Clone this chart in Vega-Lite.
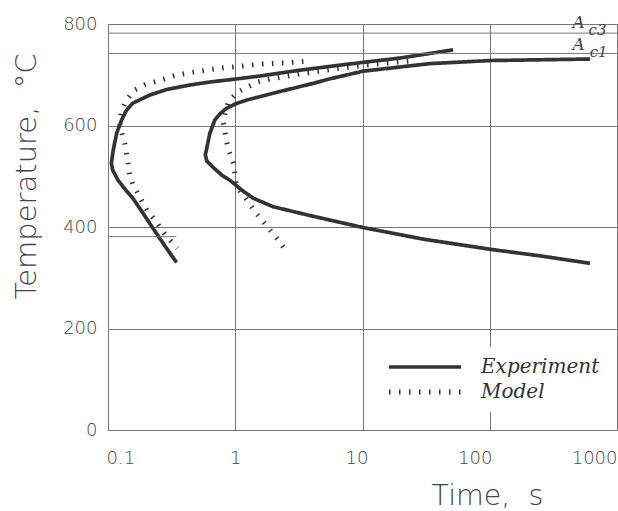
{
  "$schema": "https://vega.github.io/schema/vega-lite/v6.json",
  "width": 509,
  "height": 406,
  "autosize": "none",
  "padding": {"left": 108, "top": 24, "right": 1, "bottom": 81},
  "background": "white",
  "config": {"view": {"stroke": "#777", "strokeWidth": 1}},
  "datasets": {
    "curves": [
      {"curve": "E1", "type": "Experiment", "t": 51.5, "T": 749},
      {"curve": "E1", "type": "Experiment", "t": 19.8, "T": 733},
      {"curve": "E1", "type": "Experiment", "t": 6.67, "T": 719},
      {"curve": "E1", "type": "Experiment", "t": 3.23, "T": 709},
      {"curve": "E1", "type": "Experiment", "t": 1.565, "T": 697.5},
      {"curve": "E1", "type": "Experiment", "t": 1.01, "T": 691.6},
      {"curve": "E1", "type": "Experiment", "t": 0.632, "T": 685.7},
      {"curve": "E1", "type": "Experiment", "t": 0.44, "T": 679.8},
      {"curve": "E1", "type": "Experiment", "t": 0.29, "T": 671},
      {"curve": "E1", "type": "Experiment", "t": 0.213, "T": 660},
      {"curve": "E1", "type": "Experiment", "t": 0.1565, "T": 644},
      {"curve": "E1", "type": "Experiment", "t": 0.14, "T": 630.5},
      {"curve": "E1", "type": "Experiment", "t": 0.128, "T": 611},
      {"curve": "E1", "type": "Experiment", "t": 0.117, "T": 585},
      {"curve": "E1", "type": "Experiment", "t": 0.11, "T": 552},
      {"curve": "E1", "type": "Experiment", "t": 0.1063, "T": 526},
      {"curve": "E1", "type": "Experiment", "t": 0.1089, "T": 512},
      {"curve": "E1", "type": "Experiment", "t": 0.1193, "T": 493},
      {"curve": "E1", "type": "Experiment", "t": 0.1377, "T": 473},
      {"curve": "E1", "type": "Experiment", "t": 0.1565, "T": 457},
      {"curve": "E1", "type": "Experiment", "t": 0.1875, "T": 428},
      {"curve": "E1", "type": "Experiment", "t": 0.225, "T": 398},
      {"curve": "E1", "type": "Experiment", "t": 0.2796, "T": 363},
      {"curve": "E1", "type": "Experiment", "t": 0.3457, "T": 330},
      {"curve": "E2", "type": "Experiment", "t": 612.7, "T": 731},
      {"curve": "E2", "type": "Experiment", "t": 250.6, "T": 729.5},
      {"curve": "E2", "type": "Experiment", "t": 101.4, "T": 728},
      {"curve": "E2", "type": "Experiment", "t": 34.1, "T": 722},
      {"curve": "E2", "type": "Experiment", "t": 10.07, "T": 707},
      {"curve": "E2", "type": "Experiment", "t": 5.57, "T": 692},
      {"curve": "E2", "type": "Experiment", "t": 4.09, "T": 683},
      {"curve": "E2", "type": "Experiment", "t": 2.25, "T": 667},
      {"curve": "E2", "type": "Experiment", "t": 1.565, "T": 657},
      {"curve": "E2", "type": "Experiment", "t": 1.23, "T": 650},
      {"curve": "E2", "type": "Experiment", "t": 1.013, "T": 643},
      {"curve": "E2", "type": "Experiment", "t": 0.855, "T": 634},
      {"curve": "E2", "type": "Experiment", "t": 0.758, "T": 623},
      {"curve": "E2", "type": "Experiment", "t": 0.692, "T": 611},
      {"curve": "E2", "type": "Experiment", "t": 0.632, "T": 585},
      {"curve": "E2", "type": "Experiment", "t": 0.598, "T": 556},
      {"curve": "E2", "type": "Experiment", "t": 0.582, "T": 542},
      {"curve": "E2", "type": "Experiment", "t": 0.598, "T": 530},
      {"curve": "E2", "type": "Experiment", "t": 0.667, "T": 518},
      {"curve": "E2", "type": "Experiment", "t": 0.785, "T": 502},
      {"curve": "E2", "type": "Experiment", "t": 0.908, "T": 492},
      {"curve": "E2", "type": "Experiment", "t": 1.15, "T": 471},
      {"curve": "E2", "type": "Experiment", "t": 1.38, "T": 457},
      {"curve": "E2", "type": "Experiment", "t": 1.98, "T": 440},
      {"curve": "E2", "type": "Experiment", "t": 3.65, "T": 424},
      {"curve": "E2", "type": "Experiment", "t": 10.07, "T": 399},
      {"curve": "E2", "type": "Experiment", "t": 30.2, "T": 376},
      {"curve": "E2", "type": "Experiment", "t": 101.4, "T": 356},
      {"curve": "E2", "type": "Experiment", "t": 250.6, "T": 343},
      {"curve": "E2", "type": "Experiment", "t": 612.7, "T": 328.5},
      {"curve": "M1", "type": "Model", "t": 3.43, "T": 726},
      {"curve": "M1", "type": "Model", "t": 2.25, "T": 723},
      {"curve": "M1", "type": "Model", "t": 1.565, "T": 721},
      {"curve": "M1", "type": "Model", "t": 1.123, "T": 717},
      {"curve": "M1", "type": "Model", "t": 0.758, "T": 713},
      {"curve": "M1", "type": "Model", "t": 0.497, "T": 706},
      {"curve": "M1", "type": "Model", "t": 0.3457, "T": 699.5},
      {"curve": "M1", "type": "Model", "t": 0.288, "T": 693},
      {"curve": "M1", "type": "Model", "t": 0.233, "T": 686},
      {"curve": "M1", "type": "Model", "t": 0.1945, "T": 680},
      {"curve": "M1", "type": "Model", "t": 0.162, "T": 670},
      {"curve": "M1", "type": "Model", "t": 0.1397, "T": 650},
      {"curve": "M1", "type": "Model", "t": 0.1275, "T": 627},
      {"curve": "M1", "type": "Model", "t": 0.1236, "T": 604},
      {"curve": "M1", "type": "Model", "t": 0.1275, "T": 588},
      {"curve": "M1", "type": "Model", "t": 0.1353, "T": 565},
      {"curve": "M1", "type": "Model", "t": 0.1397, "T": 545},
      {"curve": "M1", "type": "Model", "t": 0.1437, "T": 525.5},
      {"curve": "M1", "type": "Model", "t": 0.148, "T": 502.5},
      {"curve": "M1", "type": "Model", "t": 0.157, "T": 483},
      {"curve": "M1", "type": "Model", "t": 0.172, "T": 466},
      {"curve": "M1", "type": "Model", "t": 0.1887, "T": 447},
      {"curve": "M1", "type": "Model", "t": 0.2065, "T": 430},
      {"curve": "M1", "type": "Model", "t": 0.24, "T": 410.5},
      {"curve": "M1", "type": "Model", "t": 0.263, "T": 394},
      {"curve": "M1", "type": "Model", "t": 0.297, "T": 378},
      {"curve": "M1", "type": "Model", "t": 0.3494, "T": 358},
      {"curve": "M2", "type": "Model", "t": 22.9, "T": 727},
      {"curve": "M2", "type": "Model", "t": 11.5, "T": 720},
      {"curve": "M2", "type": "Model", "t": 6.67, "T": 713},
      {"curve": "M2", "type": "Model", "t": 3.23, "T": 701.5},
      {"curve": "M2", "type": "Model", "t": 1.876, "T": 691.6},
      {"curve": "M2", "type": "Model", "t": 1.517, "T": 686},
      {"curve": "M2", "type": "Model", "t": 1.265, "T": 676.5},
      {"curve": "M2", "type": "Model", "t": 1.056, "T": 666.6},
      {"curve": "M2", "type": "Model", "t": 0.881, "T": 647},
      {"curve": "M2", "type": "Model", "t": 0.804, "T": 607.5},
      {"curve": "M2", "type": "Model", "t": 0.83, "T": 588},
      {"curve": "M2", "type": "Model", "t": 0.855, "T": 568},
      {"curve": "M2", "type": "Model", "t": 0.898, "T": 548},
      {"curve": "M2", "type": "Model", "t": 0.964, "T": 525.5},
      {"curve": "M2", "type": "Model", "t": 0.994, "T": 506},
      {"curve": "M2", "type": "Model", "t": 1.026, "T": 479},
      {"curve": "M2", "type": "Model", "t": 1.156, "T": 463},
      {"curve": "M2", "type": "Model", "t": 1.265, "T": 450},
      {"curve": "M2", "type": "Model", "t": 1.429, "T": 430},
      {"curve": "M2", "type": "Model", "t": 1.662, "T": 410.5},
      {"curve": "M2", "type": "Model", "t": 1.876, "T": 394},
      {"curve": "M2", "type": "Model", "t": 2.118, "T": 378},
      {"curve": "M2", "type": "Model", "t": 2.46, "T": 356}
    ],
    "acLines": [{"name": "Ac3", "T": 782}, {"name": "Ac1", "T": 742}],
    "msLine": [{"t": 0.1, "t2": 0.345, "T": 381}],
    "labA": [{"s": "A", "t": 446, "T": 791.5}, {"s": "A", "t": 446, "T": 748.8}],
    "labSub": [{"s": "c3", "t": 598, "T": 778.3}, {"s": "c1", "t": 610, "T": 735.6}]
  },
  "layer": [
    {
      "data": {"name": "curves"},
      "mark": {"type": "line", "color": "#333", "strokeCap": "butt"},
      "encoding": {
        "x": {
          "field": "t", "type": "quantitative",
          "scale": {"type": "log", "domain": [0.1, 1000]},
          "axis": {
            "title": "Time,\u00a0\u00a0s",
            "values": [0.1, 1, 10, 100, 1000],
            "labelExpr": "datum.value < 1 ? '0.1' : format(datum.value, 'd')",
            "grid": true, "gridColor": "#777", "gridWidth": 1,
            "ticks": false, "domain": false,
            "labelFont": "DejaVu Sans", "labelFontSize": 18, "labelFontWeight": 200, "labelColor": "#444",
            "labelPadding": 19, "labelFlush": true, "labelOverlap": false,
            "labelOffset": {"condition": [{"test": "datum.value == 10", "value": -6}, {"test": "datum.value == 100", "value": -15}, {"test": "datum.value < 0.5", "value": -2}], "value": 0},
            "titleFont": "DejaVu Sans", "titleFontSize": 28.5, "titleFontWeight": 200, "titleColor": "#444",
            "titleX": 379, "titleY": 74, "titleAlign": "center", "titleBaseline": "alphabetic"
          }
        },
        "y": {
          "field": "T", "type": "quantitative",
          "scale": {"domain": [0, 800]},
          "axis": {
            "title": "Temperature,\u00a0\u00a0°C",
            "values": [0, 200, 400, 600, 800],
            "grid": true, "gridColor": "#777", "gridWidth": 1,
            "ticks": false, "domain": false,
            "labelFont": "DejaVu Sans", "labelFontSize": 18, "labelFontWeight": 200, "labelColor": "#444",
            "labelPadding": 11,
            "titleFont": "DejaVu Sans", "titleFontSize": 29, "titleFontWeight": 200, "titleColor": "#444",
            "titleX": -73, "titleY": 152, "titleAlign": "center", "titleBaseline": "alphabetic", "titleAngle": 270
          }
        },
        "detail": {"field": "curve"},
        "order": {"value": null},
        "strokeDash": {
          "field": "type", "type": "nominal",
          "scale": {"domain": ["Experiment", "Model"], "range": [[1, 0], [1.5, 8.5]]},
          "legend": {
            "title": null, "orient": "none", "legendX": 297, "legendY": 323,
            "fillColor": "white", "padding": 10,
            "symbolType": "M-36,0H36", "symbolSize": 4, "symbolStrokeWidth": 3, "symbolStrokeColor": "#333",
            "labelFont": "DejaVu Serif", "labelFontStyle": "italic", "labelFontSize": 20, "labelColor": "#333",
            "labelOffset": 46, "rowPadding": 5
          }
        },
        "strokeWidth": {
          "field": "type", "type": "ordinal",
          "scale": {"domain": ["Experiment", "Model"], "range": [3.7, 5]},
          "legend": null
        }
      }
    },
    {
      "data": {"name": "acLines"},
      "mark": {"type": "rule", "color": "#777", "strokeWidth": 1},
      "encoding": {"y": {"field": "T", "type": "quantitative"}}
    },
    {
      "data": {"name": "msLine"},
      "mark": {"type": "rule", "color": "#777", "strokeWidth": 1},
      "encoding": {
        "x": {"field": "t", "type": "quantitative"},
        "x2": {"field": "t2"},
        "y": {"field": "T", "type": "quantitative"}
      }
    },
    {
      "data": {"name": "labA"},
      "mark": {"type": "text", "align": "left", "baseline": "alphabetic", "font": "DejaVu Serif", "fontStyle": "italic", "fontSize": 17, "color": "#444"},
      "encoding": {
        "x": {"field": "t", "type": "quantitative"},
        "y": {"field": "T", "type": "quantitative"},
        "text": {"field": "s"}
      }
    },
    {
      "data": {"name": "labSub"},
      "mark": {"type": "text", "align": "left", "baseline": "alphabetic", "font": "DejaVu Serif", "fontStyle": "italic", "fontSize": 15, "color": "#444"},
      "encoding": {
        "x": {"field": "t", "type": "quantitative"},
        "y": {"field": "T", "type": "quantitative"},
        "text": {"field": "s"}
      }
    }
  ]
}
